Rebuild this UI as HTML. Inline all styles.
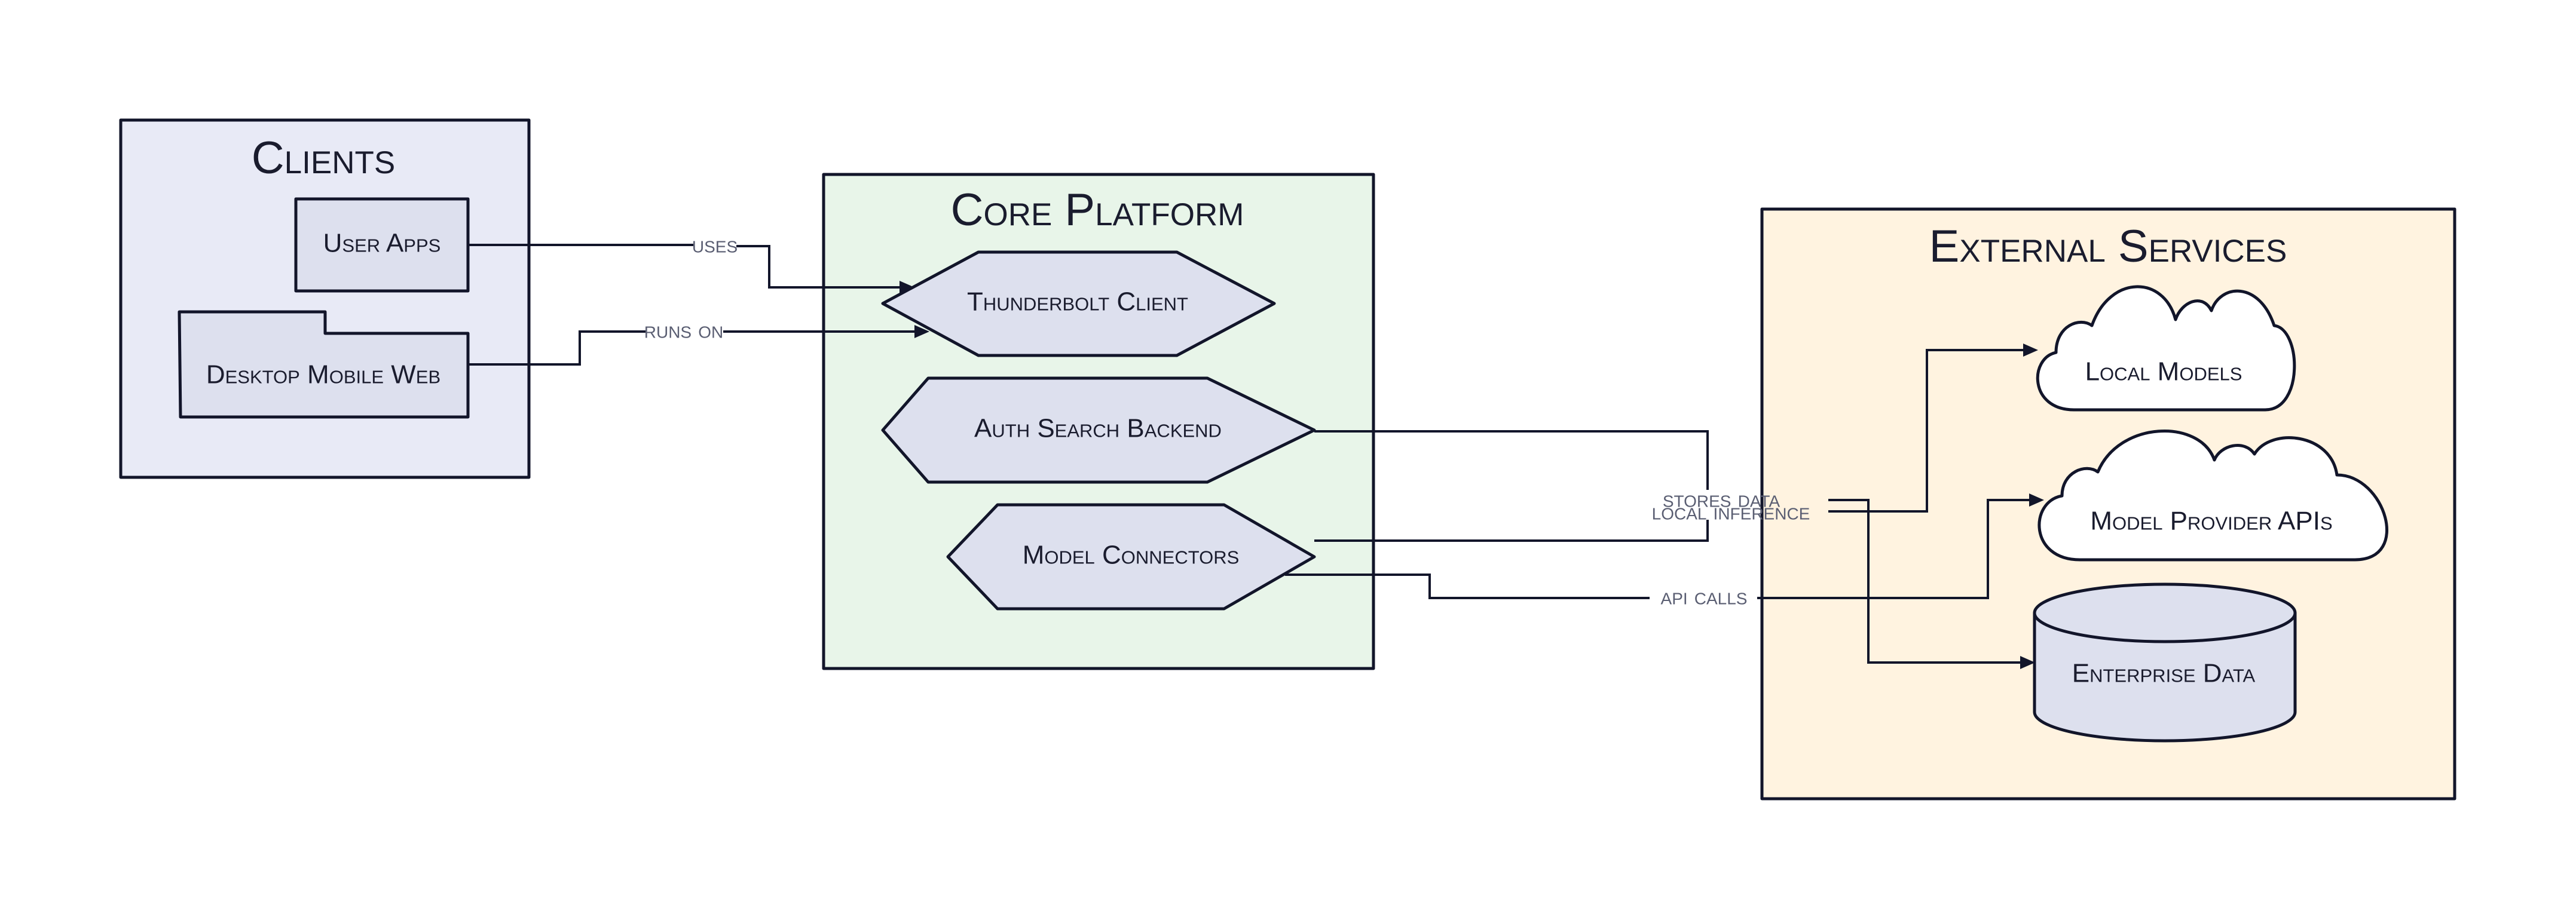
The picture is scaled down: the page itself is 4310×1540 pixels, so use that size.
<!DOCTYPE html>
<html><head><meta charset="utf-8"><style>
html,body{margin:0;padding:0;background:#fff}
svg{display:block}
text{font-family:"Liberation Sans",sans-serif;font-variant:small-caps;fill:#1a1c2e;text-anchor:middle;dominant-baseline:middle}
.t{font-size:76px}
.n{font-size:44px}
.e{font-size:40px;fill:#5a5e72}
</style></head><body>
<svg width="4310" height="1540" viewBox="0 0 4310 1540" xmlns="http://www.w3.org/2000/svg">
<g stroke="#12152a" stroke-width="5" stroke-linejoin="round">
<rect x="202" y="201" width="683" height="598" fill="#e8eaf6"/>
<rect x="1378" y="292" width="920" height="827" fill="#e8f5e9"/>
<rect x="2948" y="350" width="1159" height="987" fill="#fff3e0"/>
<rect x="495" y="333" width="288" height="154" fill="#dde0ee"/>
<path d="M300,522 L544,522 L544,558 L783,558 L783,698 L302,698 Z" fill="#dde0ee"/>
<polygon points="1477,508 1637,422 1969,422 2132,508 1969,595 1637,595" fill="#dde0ee"/>
<polygon points="1477,720 1553,633 2020,633 2199,720 2020,807 1553,807" fill="#dde0ee"/>
<polygon points="1586,932 1669,845 2048,845 2199,932 2048,1019 1669,1019" fill="#dde0ee"/>
<path d="M3470,686 C3395,686 3395,600 3440,590 C3440,545 3480,530 3500,545 C3530,460 3620,460 3640,535 C3650,505 3685,490 3700,520 C3715,475 3780,470 3805,545 C3850,550 3855,686 3790,686 Z" fill="#fff"/>
<path d="M3480,937 C3395,937 3395,840 3450,830 C3450,790 3490,775 3510,790 C3545,705 3680,700 3705,770 C3715,745 3755,735 3772,760 C3800,715 3900,725 3910,795 C3990,795 4035,937 3940,937 Z" fill="#fff"/>
<path d="M3404,1026 L3404,1192 A218,48 0 0 0 3840,1192 L3840,1026 Z" fill="#dde0ee"/>
<ellipse cx="3622" cy="1026" rx="218" ry="48" fill="#dde0ee"/>
</g>
<g stroke="#12152a" stroke-width="4" fill="none">
<path d="M783,410 L1160,410 M1232,412 L1287,412 L1287,481 L1510,481"/>
<path d="M783,610 L970,610 L970,555 L1080,555 M1210,555 L1535,555"/>
<path d="M2199,722 L2857,722 L2857,820 M2857,870 L2857,905 L2199,905"/>
<path d="M2150,962 L2392,962 L2392,1001 L2760,1001"/>
<path d="M2940,1001 L3326,1001 L3326,837 L3400,837"/>
<path d="M3059,837 L3126,837 L3126,1109 L3385,1109"/>
<path d="M3059,856 L3224,856 L3224,586 L3390,586"/>
</g>
<g fill="#12152a">
<polygon points="1530,481 1505,470 1505,492"/>
<polygon points="1555,555 1530,544 1530,566"/>
<polygon points="3405,1109 3380,1098 3380,1120"/>
<polygon points="3410,586 3385,575 3385,597"/>
<polygon points="3420,837 3395,826 3395,848"/>
</g>
<text class="t" x="541" y="270">Clients</text>
<text class="t" x="1836" y="357">Core Platform</text>
<text class="t" x="3527" y="418">External Services</text>
<text class="n" x="639" y="410">User Apps</text>
<text class="n" x="541" y="630">Desktop Mobile Web</text>
<text class="n" x="1803" y="508">Thunderbolt Client</text>
<text class="n" x="1837" y="720">Auth Search Backend</text>
<text class="n" x="1892" y="932">Model Connectors</text>
<text class="n" x="3620" y="625">Local Models</text>
<text class="n" x="3700" y="875">Model Provider APIs</text>
<text class="n" x="3620" y="1130">Enterprise Data</text>
<text class="e" x="1196" y="412">uses</text>
<text class="e" x="1144" y="555">runs on</text>
<text class="e" x="2880" y="838">stores data</text>
<text class="e" x="2896" y="859">local inference</text>
<text class="e" x="2851" y="1001">api calls</text>
</svg>
</body></html>
